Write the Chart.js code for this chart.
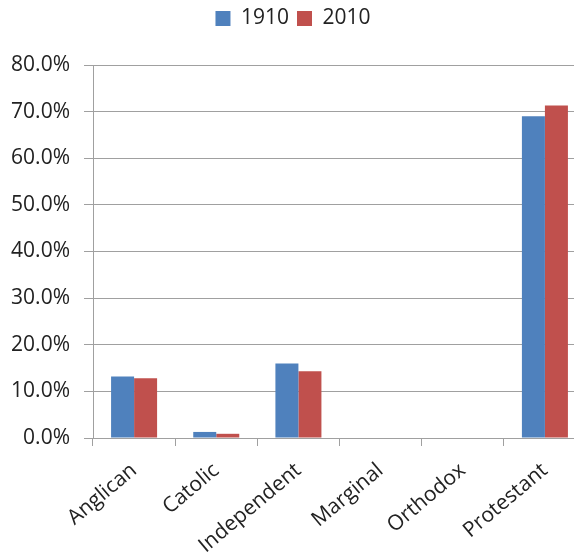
<!DOCTYPE html>
<html>
<head>
<meta charset="utf-8">
<script src="https://cdn.jsdelivr.net/npm/chart.js@4"></script>
<style>
  html, body { margin: 0; padding: 0; background: #fff; overflow: hidden; width: 574px; height: 558px; }
  #wrap { position: absolute; left: 0; top: 0; width: 586px; height: 558px; }
</style>
</head>
<body>
<div id="wrap"><canvas id="c"></canvas></div>
<script>
const categories = ['Anglican', 'Catolic', 'Independent', 'Marginal', 'Orthodox', 'Protestant'];
const values1910 = [13.2, 1.3, 16.0, 0, 0, 69.0];
const values2010 = [12.8, 0.9, 14.3, 0, 0, 71.3];
const seriesNames = ['1910', '2010'];
const yTicks = [0, 10, 20, 30, 40, 50, 60, 70, 80];

const FONT = 'Open Sans';
const TEXT = '#222222';
const GRID = '#a0a0a0';

new Chart(document.getElementById('c'), {
  type: 'bar',
  data: {
    labels: categories,
    datasets: [
      { label: seriesNames[0], data: values1910, backgroundColor: '#4F81BD', borderWidth: 0 },
      { label: seriesNames[1], data: values2010, backgroundColor: '#C0504D', borderWidth: 0 }
    ]
  },
  options: {
    responsive: true,
    maintainAspectRatio: false,
    animation: false,
    layout: { padding: 0 },
    datasets: { bar: { categoryPercentage: 0.56, barPercentage: 1.0 } },
    plugins: {
      legend: {
        position: 'top',
        labels: {
          font: { family: FONT, size: 21 },
          color: TEXT,
          boxWidth: 15,
          boxHeight: 15,
          padding: 8
        }
      },
      title: {
        display: true,
        text: '',
        weight: 500,
        font: { size: 1, lineHeight: 1 },
        padding: { top: 0, bottom: 25 }
      },
      tooltip: { enabled: false }
    },
    scales: {
      x: {
        grid: { display: true, drawOnChartArea: false, drawTicks: true, tickLength: 8, color: GRID, lineWidth: 1, offset: true },
        border: { display: true, color: GRID, width: 1 },
        ticks: {
          font: { family: FONT, size: 21 },
          color: TEXT,
          minRotation: 40,
          maxRotation: 40,
          padding: 12,
          autoSkip: false
        },
        afterFit: (s) => { s.height = 120; }
      },
      y: {
        min: 0,
        max: 80,
        afterBuildTicks: (s) => { s.ticks = yTicks.map(v => ({ value: v })); },
        grid: { color: GRID, lineWidth: 1, drawTicks: true, tickLength: 9 },
        border: { display: true, color: GRID, width: 1 },
        ticks: {
          font: { family: FONT, size: 21 },
          color: TEXT,
          padding: 14,
          callback: (v) => Number(v).toFixed(1) + '%'
        },
        afterFit: (s) => { s.width = 93; }
      }
    }
  }
});
</script>
</body>
</html>
